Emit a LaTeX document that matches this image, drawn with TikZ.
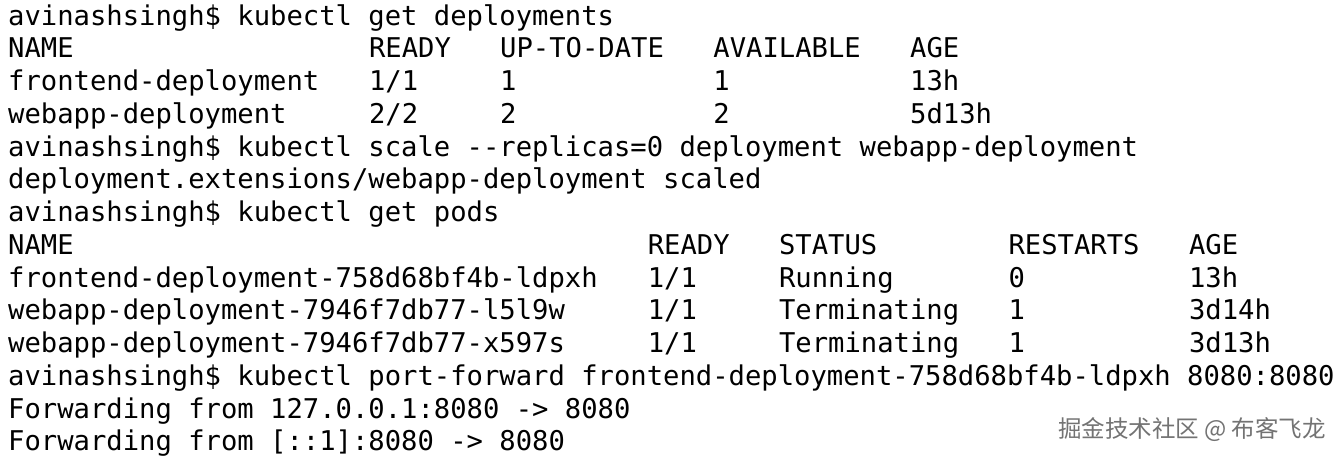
\documentclass[tikz,border=0pt]{standalone}
\usepackage{fontspec}
\newfontfamily\term{DejaVu Sans Mono}
\newfontfamily\cjk{Noto Sans CJK SC}
\begin{document}
\begin{tikzpicture}[x=1pt,y=1pt,
  t/.style={anchor=base west,inner sep=0pt,font=\term\fontsize{27.2}{30}\selectfont}]
\useasboundingbox (0,0) rectangle (1340,-459);
\fill[white] (0,0) rectangle (1340,-459);
\def\cw{16.4}
\newcommand\tline[3]{\node[t] (n#1) at ({8+#2*\cw},{-25-#1*32.75}) {#3};}
\tline{0}{0}{avinashsingh\$ kubectl get deployments}
\tline{1}{0}{NAME}\node[t] at ({8+22*\cw},-57.75){READY};\node[t] at ({8+30*\cw},-57.75){UP-TO-DATE};\node[t] at ({8+43*\cw},-57.75){AVAILABLE};\node[t] at ({8+55*\cw},-57.75){AGE};
\tline{2}{0}{frontend-deployment}\node[t] at ({8+22*\cw},-90.5){1/1};\node[t] at ({8+30*\cw},-90.5){1};\node[t] at ({8+43*\cw},-90.5){1};\node[t] at ({8+55*\cw},-90.5){13h};
\tline{3}{0}{webapp-deployment}\node[t] at ({8+22*\cw},-123.25){2/2};\node[t] at ({8+30*\cw},-123.25){2};\node[t] at ({8+43*\cw},-123.25){2};\node[t] at ({8+55*\cw},-123.25){5d13h};
\tline{4}{0}{avinashsingh\$ kubectl scale -{}-replicas=0 deployment webapp-deployment}
\tline{5}{0}{deployment.extensions/webapp-deployment scaled}
\tline{6}{0}{avinashsingh\$ kubectl get pods}
\tline{7}{0}{NAME}\node[t] at ({8+39*\cw},-254.25){READY};\node[t] at ({8+47*\cw},-254.25){STATUS};\node[t] at ({8+61*\cw},-254.25){RESTARTS};\node[t] at ({8+72*\cw},-254.25){AGE};
\tline{8}{0}{frontend-deployment-758d68bf4b-ldpxh}\node[t] at ({8+39*\cw},-287){1/1};\node[t] at ({8+47*\cw},-287){Running};\node[t] at ({8+61*\cw},-287){0};\node[t] at ({8+72*\cw},-287){13h};
\tline{9}{0}{webapp-deployment-7946f7db77-l5l9w}\node[t] at ({8+39*\cw},-319.75){1/1};\node[t] at ({8+47*\cw},-319.75){Terminating};\node[t] at ({8+61*\cw},-319.75){1};\node[t] at ({8+72*\cw},-319.75){3d14h};
\tline{10}{0}{webapp-deployment-7946f7db77-x597s}\node[t] at ({8+39*\cw},-352.5){1/1};\node[t] at ({8+47*\cw},-352.5){Terminating};\node[t] at ({8+61*\cw},-352.5){1};\node[t] at ({8+72*\cw},-352.5){3d13h};
\tline{11}{0}{avinashsingh\$ kubectl port-forward frontend-deployment-758d68bf4b-ldpxh 8080:8080}
\tline{12}{0}{Forwarding from 127.0.0.1:8080 -> 8080}
\tline{13}{0}{Forwarding from [::1]:8080 -> 8080}
\node[anchor=east,inner sep=0pt,text=black!55,font=\cjk\fontsize{23.5}{28}\selectfont] (wm) at (1326,-430) {掘金技术社区 @ 布客飞龙};
\end{tikzpicture}
\end{document}
